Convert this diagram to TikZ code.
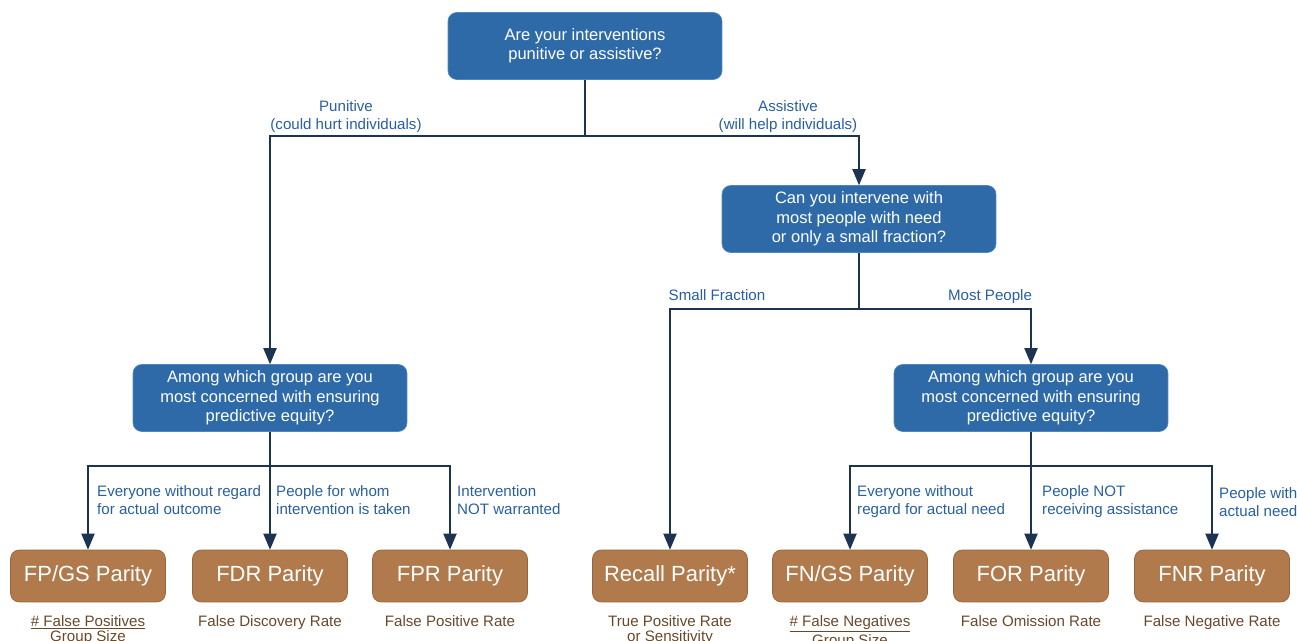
\documentclass[tikz,border=0pt]{standalone}
\usepackage{fontspec}
\setmainfont{Liberation Sans}
\usetikzlibrary{arrows}

\definecolor{qblue}{RGB}{46,106,168}
\definecolor{qedge}{RGB}{80,135,190}
\definecolor{mbrown}{RGB}{176,122,76}
\definecolor{medge}{RGB}{150,100,60}
\definecolor{lblue}{RGB}{40,95,160}
\definecolor{wire}{RGB}{28,52,82}
\definecolor{subtxt}{RGB}{105,72,42}

\tikzset{
  question/.style={draw=qedge, fill=qblue, text=white, rounded corners=5pt,
    minimum width=5.48cm, minimum height=1.34cm, align=center,
    font=\fontsize{9.4}{11}\selectfont},
  metric/.style={draw=medge, fill=mbrown, text=white, rounded corners=5pt,
    minimum width=3.1cm, minimum height=1.04cm,
    font=\fontsize{12.5}{14}\selectfont},
  branch/.style={text=lblue, align=left, anchor=west,
    font=\fontsize{8.6}{10.2}\selectfont},
  choice/.style={text=lblue, align=center,
    font=\fontsize{8.6}{10.2}\selectfont},
  subnote/.style={text=subtxt, align=center, anchor=north,
    font=\fontsize{8.6}{9}\selectfont},
  link/.style={line width=1.1pt, draw=wire},
  arrowlink/.style={link, ->, >=triangle 45}
}

\begin{document}
\begin{tikzpicture}[x=0.02cm,y=-0.02cm]
\useasboundingbox (0,0) rectangle (1297,641);

% questions
\node[question] (kind) at (585,46) {Are your interventions\\punitive or assistive?};
\node[question] (reach) at (859,219) {Can you intervene with\\most people with need\\or only a small fraction?};
\node[question] (grpl) at (270,398) {Among which group are you\\most concerned with ensuring\\predictive equity?};
\node[question] (grpr) at (1031,398) {Among which group are you\\most concerned with ensuring\\predictive equity?};

% metrics
\node[metric] (fpgs) at (88,576) {FP/GS Parity};
\node[metric] (fdr) at (270,576) {FDR Parity};
\node[metric] (fpr) at (450,576) {FPR Parity};
\node[metric] (recall) at (670,576) {Recall Parity*};
\node[metric] (fngs) at (850,576) {FN/GS Parity};
\node[metric] (for) at (1031,576) {FOR Parity};
\node[metric] (fnr) at (1212,576) {FNR Parity};

% metric notes
\node[subnote] (fpgsnote) at (88,609) {\underline{\# False Positives}\\Group Size};
\node[subnote] (fdrnote) at (270,609) {False Discovery Rate};
\node[subnote] (fprnote) at (450,609) {False Positive Rate};
\node[subnote] (recallnote) at (670,609) {True Positive Rate\\or Sensitivity};
\node[subnote] (fngsnote) at (850,609) {\underline{\# False Negatives}\\Group Size};
\node[subnote] (fornote) at (1031,609) {False Omission Rate};
\node[subnote] (fnrnote) at (1212,609) {False Negative Rate};

% split points
\coordinate (split0) at (585,136);
\coordinate (split1) at (859,309);
\coordinate (split2) at (270,466);
\coordinate (split3) at (1031,466);

% connectors
\draw[link] (kind.south) -- (split0);
\draw[arrowlink] (split0) -| (grpl.north);
\draw[arrowlink] (split0) -| (reach.north);
\draw[link] (reach.south) -- (split1);
\draw[arrowlink] (split1) -| (recall.north);
\draw[arrowlink] (split1) -| (grpr.north);
\draw[link] (grpl.south) -- (split2);
\draw[arrowlink] (split2) -| (fpgs.north);
\draw[arrowlink] (split2) -- (fdr.north);
\draw[arrowlink] (split2) -| (fpr.north);
\draw[link] (grpr.south) -- (split3);
\draw[arrowlink] (split3) -| (fngs.north);
\draw[arrowlink] (split3) -- (for.north);
\draw[arrowlink] (split3) -| (fnr.north);

% answers
\node[choice] (punitive) at (346,117) {Punitive\\(could hurt individuals)};
\node[choice] (assistive) at (788,117) {Assistive\\(will help individuals)};
\node[choice] (small) at (717,295) {Small Fraction};
\node[choice] (most) at (990,297) {Most People};
\node[branch] (everyl) at (91,500) {Everyone without regard\\for actual outcome};
\node[branch] (taken) at (270,500) {People for whom\\intervention is taken};
\node[branch] (notwar) at (451,500) {Intervention\\NOT warranted};
\node[branch] (everyr) at (851,502) {Everyone without\\regard for actual need};
\node[branch] (notrec) at (1036,502) {People NOT\\receiving assistance};
\node[branch] (need) at (1213,502) {People with\\actual need};
\end{tikzpicture}
\end{document}
